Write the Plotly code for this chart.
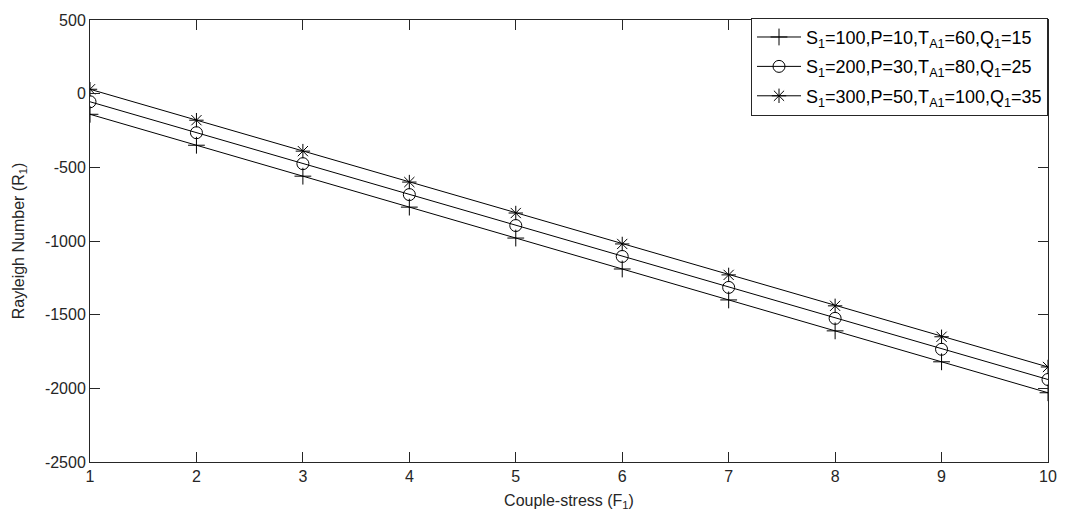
import plotly.graph_objects as go

F1 = [1, 2, 3, 4, 5, 6, 7, 8, 9, 10]
R_s100 = [-140, -350, -560, -770, -980, -1190, -1400, -1610, -1820, -2030]
R_s200 = [-55, -265, -475, -685, -895, -1105, -1315, -1525, -1735, -1940]
R_s300 = [30, -180, -390, -600, -810, -1020, -1230, -1440, -1650, -1855]

y_ticks = [-2500, -2000, -1500, -1000, -500, 0, 500]
y_ticktext = ["-2500", "-2000", "-1500", "-1000", "-500", "0", "500"]

names = [
    "S<sub>1</sub>=100,P=10,T<sub>A1</sub>=60,Q<sub>1</sub>=15",
    "S<sub>1</sub>=200,P=30,T<sub>A1</sub>=80,Q<sub>1</sub>=25",
    "S<sub>1</sub>=300,P=50,T<sub>A1</sub>=100,Q<sub>1</sub>=35",
]
symbols = ["cross-thin-open", "circle-open", "asterisk-open"]
series = [R_s100, R_s200, R_s300]

FONT = "Liberation Sans, Arial"
TXT = "#262626"

fig = go.Figure()
for i, (ys, nm, sym) in enumerate(zip(series, names, symbols)):
    fig.add_trace(go.Scatter(
        x=F1, y=ys, mode="lines+markers", name=nm, legendgroup=f"g{i}",
        line=dict(color="black", width=1),
        marker=dict(symbol=sym, size=12, color="black", line=dict(width=1, color="black")),
    ))

axis_common = dict(
    showline=True, linecolor=TXT, linewidth=1, mirror="ticks",
    ticks="inside", ticklen=10, tickcolor=TXT, showgrid=False, zeroline=False,
    tickfont=dict(family=FONT, size=16, color=TXT), ticklabeloverflow="allow",
)
fig.update_xaxes(range=[1, 10], tickvals=F1, **axis_common,
                 title=dict(text="Couple-stress (F<sub>1</sub>)",
                            font=dict(family=FONT, size=16, color=TXT),
                            standoff=10))
fig.update_yaxes(range=[-2500, 500], tickvals=y_ticks, ticktext=y_ticktext, **axis_common,
                 title=dict(text="Rayleigh Number (R<sub>1</sub>)",
                            font=dict(family=FONT, size=16, color=TXT),
                            standoff=16))

fig.update_layout(
    width=1069, height=525,
    margin=dict(l=90, r=12, t=14, b=63),
    plot_bgcolor="white", paper_bgcolor="white",
    legend=dict(x=1.0, y=1.005, xanchor="right", yanchor="top",
                bgcolor="white", bordercolor=TXT, borderwidth=1,
                font=dict(family=FONT, size=18, color="black"),
                itemwidth=44, tracegroupgap=3, traceorder="grouped"),
)

fig.write_html(
    "out.html",
    config={"displayModeBar": False},
    post_script="document.body.style.margin='0';document.body.style.overflow='hidden';",
)
